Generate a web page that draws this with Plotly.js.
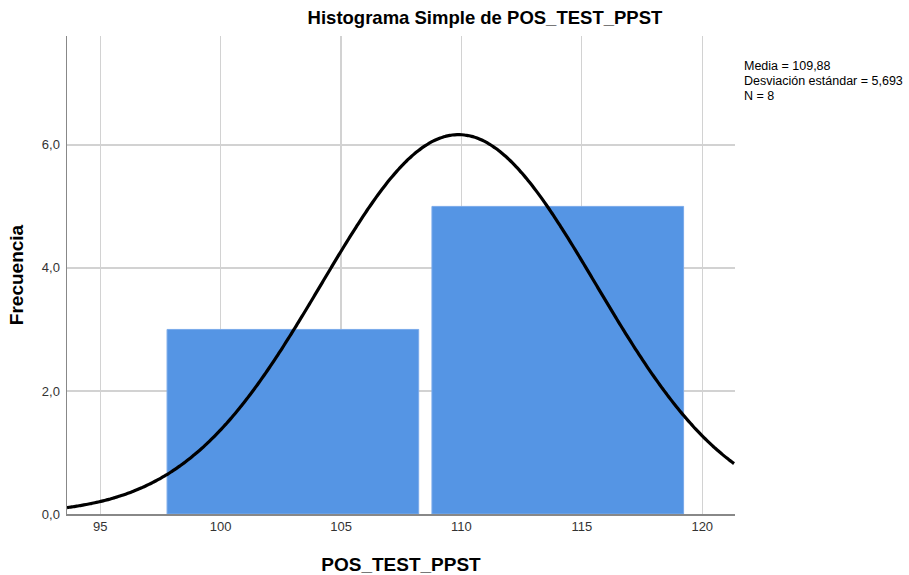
<!DOCTYPE html>
<html>
<head>
<meta charset="utf-8">
<script src="https://cdn.plot.ly/plotly-3.0.1.min.js"></script>
<style>html,body{margin:0;padding:0;background:#fff;}#chart{width:909px;height:575px;}</style>
</head>
<body>
<div id="chart"></div>
<script>
// Histogram bins (centres) and frequencies
const binCenters = [103, 114];
const frequencies = [3, 5];
const binWidth = 11;
// Summary statistics shown on the chart
const mean = 109.88;
const stdDev = 5.693;
const nObs = 8;
const statLines = ['Media = 109,88', 'Desviación estándar = 5,693', 'N = 8'];
const xTicks = [95, 100, 105, 110, 115, 120];
const yTicks = [0, 2, 4, 6];

// Fitted normal curve scaled to counts (as drawn by SPSS)
const curveX = [];
const curveY = [];
for (let x = 93.62; x <= 121.36; x += 0.1) {
  const z = (x - mean) / stdDev;
  curveX.push(x);
  curveY.push(nObs * binWidth * Math.exp(-0.5 * z * z) / (stdDev * Math.sqrt(2 * Math.PI)));
}

const traces = [
  {
    type: 'bar', x: binCenters, y: frequencies, width: binCenters.map(() => binWidth * 0.95),
    marker: {color: '#5595e4', line: {color: '#7aaaea', width: 1}}, hoverinfo: 'x+y'
  },
  {
    type: 'scatter', mode: 'lines', x: curveX, y: curveY,
    line: {color: '#000000', width: 3.2, shape: 'spline'}, hoverinfo: 'skip'
  }
];

const statY = [0.9362, 0.9059, 0.8755];
const layout = {
  width: 909, height: 575,
  margin: {l: 67, r: 174, t: 36, b: 61},
  paper_bgcolor: '#ffffff', plot_bgcolor: '#ffffff',
  showlegend: false,
  separators: ',.',
  font: {family: 'Liberation Sans, Arial, sans-serif', color: '#333333', size: 13},
  title: {text: 'Histograma Simple de POS_TEST_PPST', x: 0.6257, xref: 'paper', xanchor: 'center',
          y: 20, yref: 'container', yanchor: 'middle',
          font: {family: 'Liberation Sans, Arial, sans-serif', size: 18.5, color: '#000000', weight: 'bold'}},
  xaxis: {
    range: [93.62, 121.36], tickvals: xTicks, ticktext: xTicks.map(String),
    showgrid: true, gridcolor: '#d2d2d2', gridwidth: 1.3,
    showline: true, linecolor: '#888888', linewidth: 1.5, zeroline: false,
    ticks: '', tickfont: {size: 13, color: '#333333'},
    title: {text: 'POS_TEST_PPST', standoff: 24, font: {size: 19, color: '#000000', weight: 'bold'}}
  },
  yaxis: {
    range: [0, 7.77], tickvals: yTicks, tickformat: '.1f',
    showgrid: true, gridcolor: '#d2d2d2', gridwidth: 1.3,
    showline: true, linecolor: '#888888', linewidth: 1.5, zeroline: false,
    ticks: '', ticklabelstandoff: 3, tickfont: {size: 13, color: '#333333'},
    title: {text: 'Frecuencia', standoff: 13, font: {size: 19, color: '#000000', weight: 'bold'}}
  },
  annotations: statLines.map((t, i) => ({
    xref: 'paper', yref: 'paper', x: 1.011, y: statY[i], xanchor: 'left', yanchor: 'middle', align: 'left',
    showarrow: false, text: t, font: {size: 12.5, color: '#000000'}
  }))
};

Plotly.newPlot('chart', traces, layout, {displayModeBar: false, staticPlot: true});
</script>
</body>
</html>
